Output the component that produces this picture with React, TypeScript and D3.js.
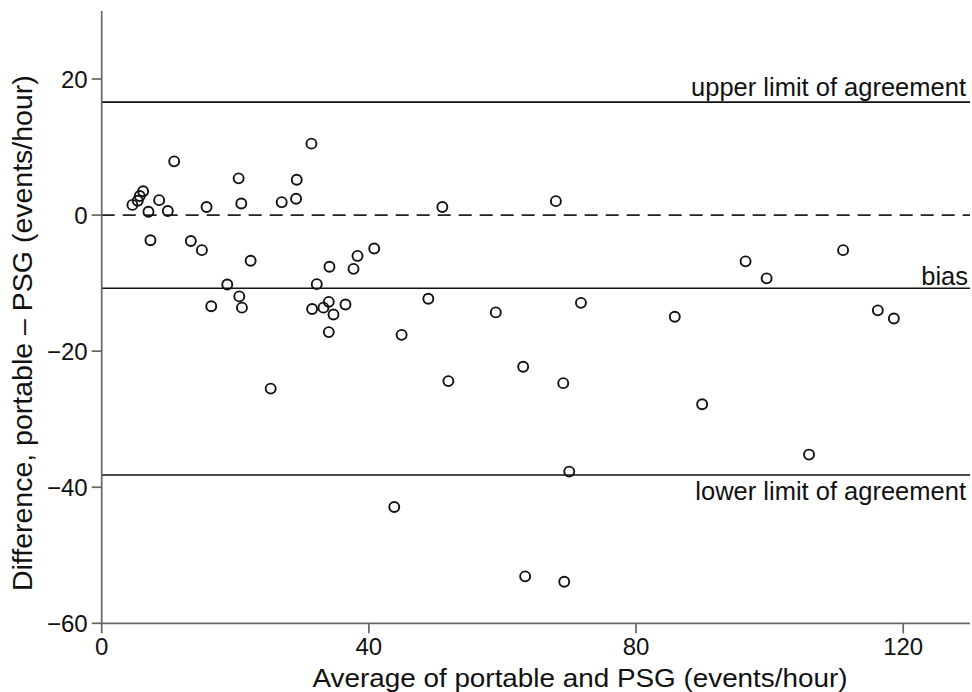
import React from "react";
import * as d3 from "d3";

const xTicks = [0, 40, 80, 120];
const yTicks = [20, 0, -20, -40, -60];

const avgValues = [
  4.6, 5.4, 5.7, 6.2, 7.0, 8.6, 9.9, 10.85, 15.7, 20.5, 20.9, 26.95, 29.1, 29.2, 31.4,
  7.3, 13.35, 15.0, 22.3, 40.8, 38.3, 37.7, 34.1, 18.8, 32.2, 20.6, 16.4, 21.0, 31.5,
  33.2, 34.0, 34.7, 36.5, 34.0, 25.3, 51.0, 68.0, 48.9, 59.0, 71.75, 44.9, 51.9, 63.1,
  69.1, 70.0, 43.8, 63.4, 69.25, 85.8, 89.9, 96.4, 99.55, 105.9, 111.0, 116.2, 118.6,
];
const diffValues = [
  1.5, 2.1, 2.8, 3.5, 0.5, 2.2, 0.6, 7.9, 1.2, 5.4, 1.7, 1.9, 2.4, 5.2, 10.5,
  -3.7, -3.8, -5.15, -6.7, -4.9, -6.0, -7.9, -7.6, -10.2, -10.15, -11.95, -13.4, -13.6, -13.8,
  -13.6, -12.75, -14.6, -13.15, -17.2, -25.5, 1.2, 2.05, -12.3, -14.3, -12.9, -17.6, -24.4, -22.3,
  -24.7, -37.7, -42.9, -53.1, -53.9, -14.95, -27.8, -6.8, -9.3, -35.2, -5.15, -14.0, -15.2,
];

const biasValue = -10.75;
const upperLoA = 16.6;
const lowerLoA = -38.2;

const W = 972;
const H = 692;

export default function App() {
  const x = d3.scaleLinear().domain([0, 130]).range([101.7, 970]);
  const y = d3.scaleLinear().domain([-60, 30]).range([623.3, 11]);
  const axisColor = "#666";
  const font = "'Liberation Sans', Arial, Helvetica, sans-serif";
  const points = avgValues.map((a, i) => ({ a, d: diffValues[i] }));
  const [x0, x1] = x.range();
  const [yBottom, yTop] = y.range();

  return (
    <svg
      width={W}
      height={H}
      style={{ position: "absolute", left: 0, top: 0, background: "#fff" }}
      fontFamily={font}
    >
      <rect width={W} height={H} fill="#fff" />
      {/* reference lines */}
      <line x1={x0} x2={x1} y1={y(upperLoA)} y2={y(upperLoA)} stroke="#111" strokeWidth={1.7} />
      <line x1={x0} x2={x1} y1={y(biasValue)} y2={y(biasValue)} stroke="#111" strokeWidth={1.7} />
      <line x1={x0} x2={x1} y1={y(lowerLoA)} y2={y(lowerLoA)} stroke="#111" strokeWidth={1.7} />
      <line x1={x0} x2={x1} y1={y(0)} y2={y(0)} stroke="#222" strokeWidth={1.7} strokeDasharray="13,8" />

      <text x={966} y={y(upperLoA) - 6} textAnchor="end" fontSize={25.5} fill="#111">upper limit of agreement</text>
      <text x={968} y={y(biasValue) - 3} textAnchor="end" fontSize={25.5} fill="#111">bias</text>
      <text x={966} y={y(lowerLoA) + 25} textAnchor="end" fontSize={25.5} fill="#111">lower limit of agreement</text>

      {/* axes */}
      <line x1={x0} x2={x0} y1={yTop} y2={yBottom} stroke={axisColor} strokeWidth={1.7} />
      <line x1={x0} x2={x1} y1={yBottom} y2={yBottom} stroke={axisColor} strokeWidth={1.7} />
      {yTicks.map((t) => (
        <g key={"y" + t}>
          <line x1={x0 - 10} x2={x0} y1={y(t)} y2={y(t)} stroke={axisColor} strokeWidth={1.7} />
          <text x={x0 - 14} y={y(t)} dy="0.36em" textAnchor="end" fontSize={24} fill="#111">
            {t < 0 ? "\u2212" + Math.abs(t) : String(t)}
          </text>
        </g>
      ))}
      {xTicks.map((t) => (
        <g key={"x" + t}>
          <line x1={x(t)} x2={x(t)} y1={yBottom} y2={yBottom + 10} stroke={axisColor} strokeWidth={1.7} />
          <text x={x(t)} y={yBottom + 32} textAnchor="middle" fontSize={24} fill="#111">{t}</text>
        </g>
      ))}

      <text
        x={580}
        y={687}
        textAnchor="middle"
        fontSize={26}
        textLength={535}
        lengthAdjust="spacingAndGlyphs"
        fill="#111"
      >
        Average of portable and PSG (events/hour)
      </text>
      <text
        transform={`translate(32, ${(yTop + yBottom) / 2 + 16}) rotate(-90)`}
        textAnchor="middle"
        fontSize={28.5}
        fill="#111"
      >
        Difference, portable – PSG (events/hour)
      </text>

      {/* points */}
      {points.map((p, i) => (
        <circle key={i} cx={x(p.a)} cy={y(p.d)} r={5} fill="none" stroke="#111" strokeWidth={1.9} />
      ))}
    </svg>
  );
}
